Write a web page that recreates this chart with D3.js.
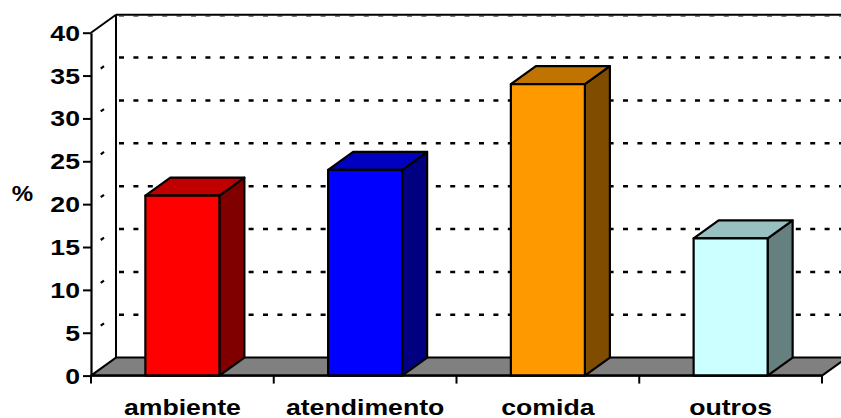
<!DOCTYPE html>
<html>
<head>
<meta charset="utf-8">
<script src="https://cdn.jsdelivr.net/npm/d3@7"></script>
<style>
  html, body { margin: 0; padding: 0; background: #ffffff; }
  svg { display: block; }
  text { font-family: "Liberation Sans", Arial, sans-serif; font-weight: bold; fill: #000; }
</style>
</head>
<body>
<svg id="chart" width="841" height="418"></svg>
<script>
// Chart data
const categories = ["ambiente", "atendimento", "comida", "outros"];
const values = [21, 24, 34, 16];
const yTicks = [0, 5, 10, 15, 20, 25, 30, 35, 40];
const yLabel = "%";

// Face colours per bar: front, top, side
const frontColors = ["#FF0000", "#0000FF", "#FF9900", "#CCFFFF"];
const topColors   = ["#C00000", "#0000C0", "#C07300", "#99C0C0"];
const sideColors  = ["#800000", "#000080", "#804C00", "#668080"];

const svg = d3.select("#chart");

// Plot frame (front plane) and 3D depth offset
const plotLeft = 91, plotRight = 822, plotBottom = 375.6, plotTop = 32.7;
const dx = 25, dy = -18;
const scaleX = 1.24;   // horizontal stretch of the label font

const y = d3.scaleLinear().domain([0, 40]).range([plotBottom, plotTop]);
const pad = 0.595;
const x = d3.scaleBand().domain(categories).range([plotLeft, plotRight])
  .paddingInner(pad).paddingOuter(pad / 2);
const edge = d3.scaleLinear().domain([0, categories.length]).range([plotLeft, plotRight]);

const ymax = y.domain()[1];

// Back wall gridlines
const grid = svg.append("g");
yTicks.filter(v => v > 0 && v < ymax).forEach(v => {
  grid.append("line")
    .attr("x1", plotLeft + dx).attr("x2", plotRight + dx + 30)
    .attr("y1", y(v) + dy).attr("y2", y(v) + dy)
    .attr("stroke", "#000").attr("stroke-width", 2.5)
    .attr("stroke-dasharray", "5 9.4").attr("stroke-dashoffset", -3);
  // side wall gridline
  grid.append("line")
    .attr("x1", plotLeft).attr("y1", y(v))
    .attr("x2", plotLeft + dx).attr("y2", y(v) + dy)
    .attr("stroke", "#000").attr("stroke-width", 2.2)
    .attr("stroke-dasharray", "0 12 4 100");
});
// top gridline sits just under the wall border
grid.append("line")
  .attr("x1", plotLeft + dx).attr("x2", plotRight + dx + 30)
  .attr("y1", y(ymax) + dy + 1.6).attr("y2", y(ymax) + dy + 1.6)
  .attr("stroke", "#808080").attr("stroke-width", 1.6)
  .attr("stroke-dasharray", "5 9.4").attr("stroke-dashoffset", -3);

// Walls
const walls = svg.append("g").attr("stroke", "#000").attr("stroke-width", 2).attr("fill", "none");
walls.append("line")
  .attr("x1", plotLeft + dx).attr("y1", y(ymax) + dy)
  .attr("x2", plotLeft + dx).attr("y2", y(0) + dy);
walls.append("line")
  .attr("x1", plotLeft + dx).attr("y1", y(ymax) + dy)
  .attr("x2", plotRight + dx + 30).attr("y2", y(ymax) + dy);
walls.append("line")
  .attr("x1", plotLeft).attr("y1", y(ymax))
  .attr("x2", plotLeft + dx).attr("y2", y(ymax) + dy);

// Floor
svg.append("polygon")
  .attr("points", [
    [plotLeft, y(0)], [plotRight, y(0)], [plotRight + dx, y(0) + dy], [plotLeft + dx, y(0) + dy]
  ].map(p => p.join(",")).join(" "))
  .attr("fill", "#808080").attr("stroke", "#000").attr("stroke-width", 2)
  .attr("stroke-linejoin", "round");

// Bars as boxes
const bw = x.bandwidth();
const bars = svg.append("g").selectAll("g.bar")
  .data(categories.map((c, i) => ({ c, v: values[i], i })))
  .join("g").attr("class", "bar")
  .attr("stroke", "#000").attr("stroke-width", 2.2).attr("stroke-linejoin", "round");

bars.append("polygon") // side
  .attr("points", d => {
    const x1 = x(d.c) + bw, yt = y(d.v), yb = y(0);
    return [[x1, yt], [x1 + dx, yt + dy], [x1 + dx, yb + dy], [x1, yb]].map(p => p.join(",")).join(" ");
  })
  .attr("fill", d => sideColors[d.i]);
bars.append("polygon") // top
  .attr("points", d => {
    const x0 = x(d.c), x1 = x0 + bw, yt = y(d.v);
    return [[x0, yt], [x0 + dx, yt + dy], [x1 + dx, yt + dy], [x1, yt]].map(p => p.join(",")).join(" ");
  })
  .attr("fill", d => topColors[d.i]);
bars.append("rect") // front
  .attr("x", d => x(d.c)).attr("y", d => y(d.v))
  .attr("width", bw).attr("height", d => y(0) - y(d.v))
  .attr("fill", d => frontColors[d.i]);

// Value axis
const yAxis = svg.append("g")
  .attr("transform", `translate(${plotLeft},0)`)
  .call(d3.axisLeft(y).tickValues(yTicks).tickSize(8).tickSizeOuter(0).tickFormat(""));
yAxis.select(".domain").attr("stroke-width", 2.2);
yAxis.selectAll(".tick line").attr("stroke-width", 2);

svg.append("g").selectAll("text")
  .data(yTicks).join("text")
  .attr("transform", v => `translate(80,${y(v) + 8}) scale(${scaleX},1)`)
  .attr("text-anchor", "end")
  .attr("font-size", 21.5)
  .text(v => v);

svg.append("text")
  .attr("transform", `translate(22.5,201) scale(1.12,1)`)
  .attr("text-anchor", "middle")
  .attr("font-size", 21.5)
  .text(yLabel);

// Category axis
svg.append("line")
  .attr("x1", plotLeft).attr("x2", plotRight).attr("y1", y(0)).attr("y2", y(0))
  .attr("stroke", "#000").attr("stroke-width", 2.2);
svg.append("g").selectAll("line")
  .data(d3.range(categories.length + 1)).join("line")
  .attr("x1", i => edge(i)).attr("x2", i => edge(i))
  .attr("y1", y(0)).attr("y2", y(0) + 8)
  .attr("stroke", "#000").attr("stroke-width", 2);

svg.append("g").selectAll("text")
  .data(categories).join("text")
  .attr("transform", c => `translate(${x(c) + bw / 2},415) scale(${scaleX},1)`)
  .attr("text-anchor", "middle")
  .attr("font-size", 21.5)
  .text(c => c);
</script>
</body>
</html>
